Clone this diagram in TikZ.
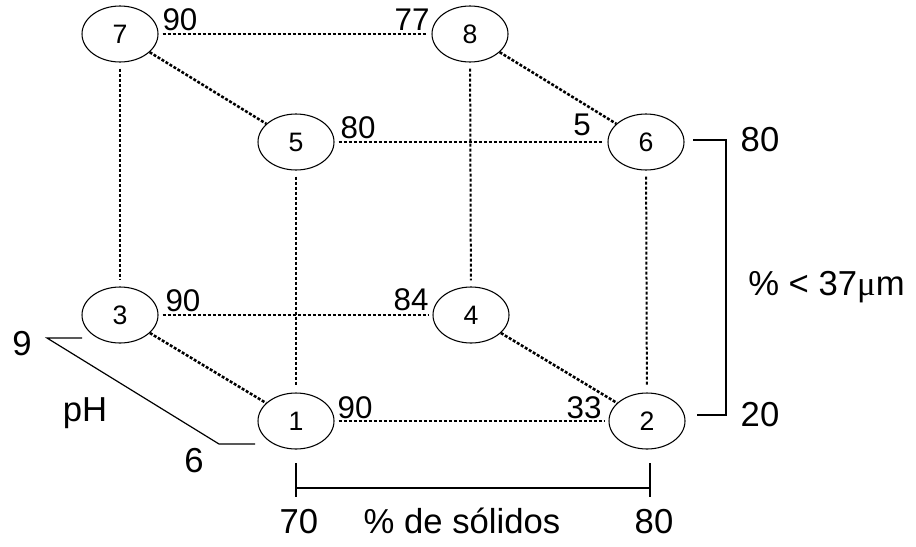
\documentclass[tikz,border=0pt]{standalone}
\usepackage{fontspec}
\setmainfont{Liberation Sans}
\newfontfamily\serifmu{Liberation Serif}
\usetikzlibrary{shapes.geometric}
\begin{document}
\begin{tikzpicture}[x=0.75pt,y=-0.75pt,
  stnode/.style={draw, ellipse, line width=0.8pt, minimum width=57pt, minimum height=42pt, inner sep=0pt, font=\fontsize{20}{22}\selectfont},
  dotln/.style={line width=1.5pt, dash pattern=on 2.25pt off 1.5pt},
  hedge/.style={dotln, shorten <=3pt, shorten >=3pt},
  vedge/.style={dotln, shorten <=4.5pt, shorten >=4.5pt},
  dedge/.style={line width=1.9pt, dash pattern=on 2.2pt off 1.3pt},
  lbl/.style={anchor=base, inner sep=0pt, font=\fontsize{23.5}{25}\selectfont},
  axlbl/.style={anchor=base, inner sep=0pt, font=\fontsize{26}{28}\selectfont},
  axline/.style={line width=0.9pt}
]
\useasboundingbox (0,0) rectangle (916,546);

% nodes
\node[stnode] (n7) at (120,34) {7};
\node[stnode] (n8) at (470,34) {8};
\node[stnode] (n5) at (296,142) {5};
\node[stnode] (n6) at (646,142) {6};
\node[stnode] (n3) at (120,315) {3};
\node[stnode] (n4) at (471,315) {4};
\node[stnode] (n1) at (296,421) {1};
\node[stnode] (n2) at (647,421) {2};

% cube edges
\draw[hedge] (n7) -- (n8);
\draw[hedge] (n5) -- (n6);
\draw[hedge] (n3) -- (n4);
\draw[hedge] (n1) -- (n2);
\draw[vedge] (n7) -- (n3);
\draw[vedge] (n5) -- (n1);
\draw[vedge] (n8) -- (n4);
\draw[vedge] (n6) -- (n2);
\draw[dedge] (n7) -- (n5);
\draw[dedge] (n8) -- (n6);
\draw[dedge] (n3) -- (n1);
\draw[dedge] (n4) -- (n2);

% edge labels
\node[lbl] (t90a) at (180,31) {90};
\node[lbl] (t77) at (412,31) {77};
\node[lbl] (t80a) at (358,138) {80};
\node[lbl] (t5) at (582,135) {5};
\node[lbl] (t90b) at (183,311) {90};
\node[lbl] (t84) at (411,310) {84};
\node[lbl] (t90c) at (355,418) {90};
\node[lbl] (t33) at (584,418) {33};

% pH axis
\coordinate (ph1) at (82,338);
\coordinate (ph2) at (47,338);
\coordinate (ph3) at (219,444);
\coordinate (ph4) at (255,444);
\draw[axline] (ph1) -- (ph2) -- (ph3) -- (ph4);
\node[axlbl] (t9) at (22,355) {9};
\node[axlbl] (tph) at (85,421) {pH};
\node[axlbl] (t6) at (194,472) {6};

% right axis
\coordinate (r1) at (693,140);
\coordinate (r2) at (726,140);
\coordinate (r3) at (726,415);
\coordinate (r4) at (697,415);
\draw[axline] (r1) -- (r2) -- (r3) -- (r4);
\node[axlbl] (t80r) at (760,151) {80};
\node[axlbl] (t20r) at (760,426) {20};
\node[axlbl, anchor=base west] (tsize) at (748,295) {\% < 37{\serifmu μ}m};

% bottom axis
\coordinate (b1) at (296,463);
\coordinate (b2) at (296,497);
\coordinate (b3) at (650,463);
\coordinate (b4) at (650,497);
\coordinate (b5) at (296,488);
\coordinate (b6) at (650,488);
\draw[axline] (b1) -- (b2);
\draw[axline] (b3) -- (b4);
\draw[axline] (b5) -- (b6);
\node[axlbl] (t70) at (299,533) {70};
\node[axlbl] (tsol) at (462,533) {\% de sólidos};
\node[axlbl] (t80b) at (654,533) {80};
\end{tikzpicture}
\end{document}
